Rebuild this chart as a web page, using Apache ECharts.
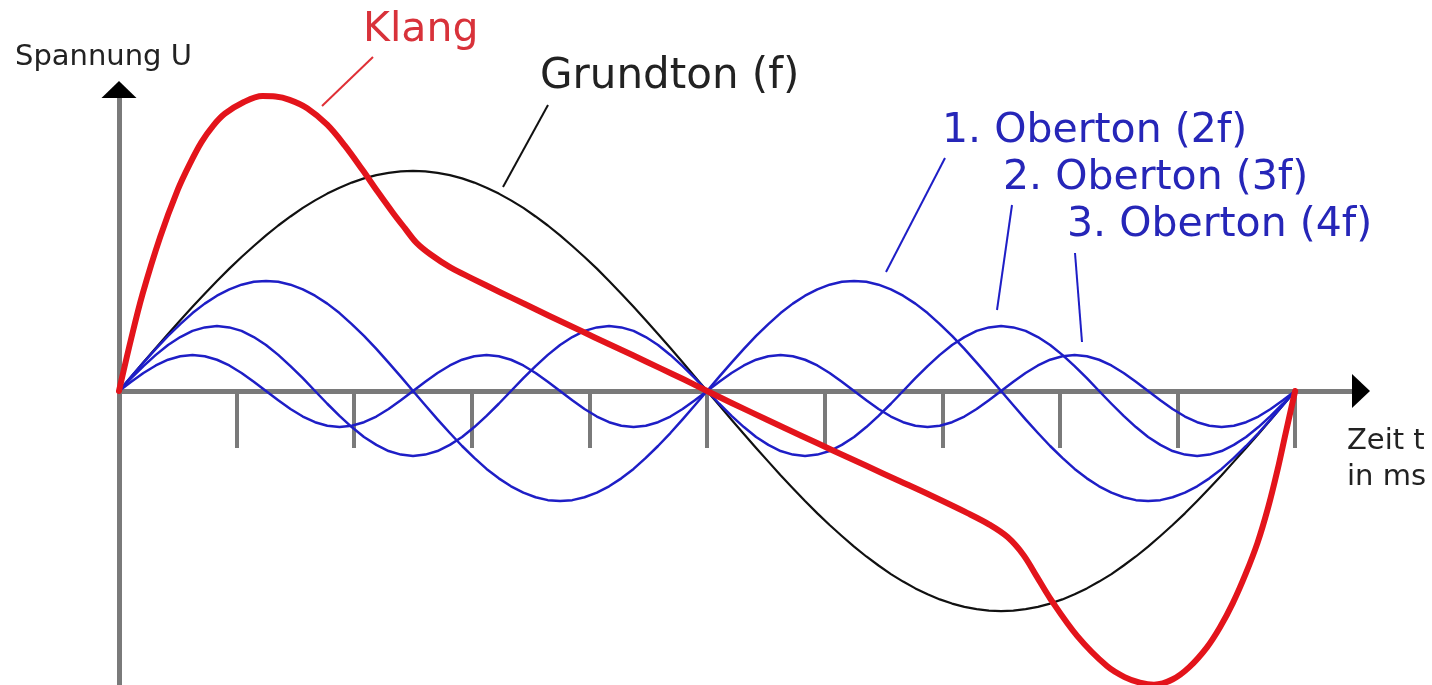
<!DOCTYPE html>
<html><head><meta charset="utf-8">
<script src="https://cdn.jsdelivr.net/npm/echarts@6/dist/echarts.min.js"></script>
<style>html,body{margin:0;padding:0;background:#fff}#c{width:1432px;height:685px}</style>
</head><body><div id="c"></div>
<script>
// time samples (ms)
const tValues = [0, .0104, .0208, .0313, .0417, .0521, .0625, .0729, .0833, .0938, .1042, .1146, .125, .1354, .1458, .1563,
  .1667, .1771, .1875, .1979, .2083, .2188, .2292, .2396, .25, .2604, .2708, .2813, .2917, .3021, .3125, .3229, .3333,
  .3438, .3542, .3646, .375, .3854, .3958, .4063, .4167, .4271, .4375, .4479, .4583, .4688, .4792, .4896, .5,
  .5104, .5208, .5313, .5417, .5521, .5625, .5729, .5833, .5938, .6042, .6146, .625, .6354, .6458, .6563, .6667,
  .6771, .6875, .6979, .7083, .7188, .7292, .7396, .75, .7604, .7708, .7813, .7917, .8021, .8125, .8229, .8333,
  .8438, .8542, .8646, .875, .8854, .8958, .9063, .9167, .9271, .9375, .9479, .9583, .9688, .9792, .9896, 1];
// Grundton (f)
const grundton = [0, .065, .131, .195, .259, .321, .383, .442, .5, .556, .609, .659, .707, .752, .793, .832, .866, .897, .924, .947, .966, .981, .991, .998, 1,
  .998, .991, .981, .966, .947, .924, .897, .866, .832, .793, .752, .707, .659, .609, .556, .5, .442, .383, .321, .259, .195, .131, .065, 0,
  -.065, -.131, -.195, -.259, -.321, -.383, -.442, -.5, -.556, -.609, -.659, -.707, -.752, -.793, -.832, -.866, -.897, -.924, -.947, -.966, -.981, -.991, -.998, -1,
  -.998, -.991, -.981, -.966, -.947, -.924, -.897, -.866, -.832, -.793, -.752, -.707, -.659, -.609, -.556, -.5, -.442, -.383, -.321, -.259, -.195, -.131, -.065, 0];
// 1. Oberton (2f)
const oberton1 = [0, .065, .129, .191, .25, .304, .354, .397, .433, .462, .483, .496, .5, .496, .483, .462, .433, .397, .354, .304, .25, .191, .129, .065, 0,
  -.065, -.129, -.191, -.25, -.304, -.354, -.397, -.433, -.462, -.483, -.496, -.5, -.496, -.483, -.462, -.433, -.397, -.354, -.304, -.25, -.191, -.129, -.065, 0,
  .065, .129, .191, .25, .304, .354, .397, .433, .462, .483, .496, .5, .496, .483, .462, .433, .397, .354, .304, .25, .191, .129, .065, 0,
  -.065, -.129, -.191, -.25, -.304, -.354, -.397, -.433, -.462, -.483, -.496, -.5, -.496, -.483, -.462, -.433, -.397, -.354, -.304, -.25, -.191, -.129, -.065, 0];
// 2. Oberton (3f)
const oberton2 = [0, .058, .113, .164, .209, .245, .273, .289, .295, .289, .273, .245, .209, .164, .113, .058, 0,
  -.058, -.113, -.164, -.209, -.245, -.273, -.289, -.295, -.289, -.273, -.245, -.209, -.164, -.113, -.058, 0,
  .058, .113, .164, .209, .245, .273, .289, .295, .289, .273, .245, .209, .164, .113, .058, 0,
  -.058, -.113, -.164, -.209, -.245, -.273, -.289, -.295, -.289, -.273, -.245, -.209, -.164, -.113, -.058, 0,
  .058, .113, .164, .209, .245, .273, .289, .295, .289, .273, .245, .209, .164, .113, .058, 0,
  -.058, -.113, -.164, -.209, -.245, -.273, -.289, -.295, -.289, -.273, -.245, -.209, -.164, -.113, -.058, 0];
// 3. Oberton (4f)
const oberton3 = [0, .042, .082, .116, .142, .158, .164, .158, .142, .116, .082, .042, 0,
  -.042, -.082, -.116, -.142, -.158, -.164, -.158, -.142, -.116, -.082, -.042, 0,
  .042, .082, .116, .142, .158, .164, .158, .142, .116, .082, .042, 0,
  -.042, -.082, -.116, -.142, -.158, -.164, -.158, -.142, -.116, -.082, -.042, 0,
  .042, .082, .116, .142, .158, .164, .158, .142, .116, .082, .042, 0,
  -.042, -.082, -.116, -.142, -.158, -.164, -.158, -.142, -.116, -.082, -.042, 0,
  .042, .082, .116, .142, .158, .164, .158, .142, .116, .082, .042, 0,
  -.042, -.082, -.116, -.142, -.158, -.164, -.158, -.142, -.116, -.082, -.042, 0];
// Klang
const klangT = [0, .01, .02, .035, .05, .06, .07, .08, .09, .105, .122, .133, .145, .16, .177, .192, .207, .22, .233, .243, .253,
  .265, .281, .3, .324, .345, .366, .394, .415, .437, .46, .48, .5,
  .52, .551, .58, .607, .635, .664, .69, .7215, .74, .7555, .769, .78, .792, .815, .84, .855, .868, .88, .896, .91, .925,
  .936, .947, .958, .968, .977, .985, .992, 1];
const klangU = [0, .23, .44, .70, .915, 1.03, 1.13, 1.205, 1.26, 1.31, 1.34, 1.338, 1.323, 1.285, 1.21, 1.115, 1.005, .905, .809, .74, .673,
  .62, .564, .512, .449, .395, .341, .270, .217, .162, .104, .053, 0,
  -.052, -.131, -.203, -.27, -.339, -.41, -.474, -.555, -.607, -.664, -.745, -.84, -.945, -1.115, -1.25, -1.3, -1.325, -1.335, -1.31, -1.255, -1.165,
  -1.075, -.964, -.83, -.69, -.53, -.359, -.19, 0];
// axis ticks and labels
const tickValues = [0.1, 0.2, 0.3, 0.4, 0.5, 0.6, 0.7, 0.8, 0.9, 1.0];
const tickLabelValues = [0.5, 1];
const tickLabels = ['o,5', '1'];

const X_MAX = 1.056, Y_MAX = 1.37, Y_MIN = -1.336;
const FONT = '"DejaVu Sans", Verdana, sans-serif';
const AXIS_GRAY = '#7a7a7a';
const BLUE = '#1e1ec6';
const BLUE_TEXT = '#2626b8';
const RED = '#e3141b';

function pairs(xs, ys) { return xs.map((x, i) => [x, ys[i]]); }

const chart = echarts.init(document.getElementById('c'), null, { renderer: 'canvas' });

function txt(text, x, y, size, color) {
  return { type: 'text', left: x, top: y - size / 2, silent: true, z: 50,
    style: { text: text, font: size + 'px ' + FONT, fill: color } };
}
function seg(x1, y1, x2, y2, color) {
  return { type: 'line', silent: true, z: 50,
    shape: { x1: x1, y1: y1, x2: x2, y2: y2 }, style: { stroke: color, lineWidth: 2 } };
}

const lineSeries = (name, data, color, width, z, smooth) => ({
  name: name, type: 'line', data: data, smooth: smooth, showSymbol: false, symbol: 'none',
  lineStyle: { color: color, width: width, join: 'round', cap: 'round' }, itemStyle: { color: color }, z: z,
  emphasis: { disabled: true }
});

chart.setOption({
  animation: false,
  backgroundColor: '#ffffff',
  grid: { left: 119, right: 71, top: 89.5, bottom: 0, containLabel: false, outerBoundsMode: 'none' },
  xAxis: {
    type: 'value', min: 0, max: X_MAX,
    axisLine: { show: true, onZero: true, lineStyle: { color: AXIS_GRAY, width: 5 } },
    axisTick: { show: true, customValues: tickValues, length: 57, lineStyle: { color: AXIS_GRAY, width: 4 } },
    axisLabel: {
      show: true, customValues: tickLabelValues, margin: 64,
      fontFamily: FONT, fontSize: 27, color: '#222',
      formatter: v => { const i = tickLabelValues.findIndex(u => Math.abs(u - v) < 1e-6); return i >= 0 ? tickLabels[i] : ''; }
    },
    splitLine: { show: false }
  },
  yAxis: {
    type: 'value', min: Y_MIN, max: Y_MAX,
    axisLine: { show: true, lineStyle: { color: AXIS_GRAY, width: 5 } },
    axisTick: { show: false }, axisLabel: { show: false }, splitLine: { show: false }
  },
  series: [
    lineSeries('Grundton (f)', pairs(tValues, grundton), '#111111', 2.2, 2, false),
    lineSeries('1. Oberton (2f)', pairs(tValues, oberton1), BLUE, 2.5, 3, false),
    lineSeries('2. Oberton (3f)', pairs(tValues, oberton2), BLUE, 2.5, 3, false),
    lineSeries('3. Oberton (4f)', pairs(tValues, oberton3), BLUE, 2.5, 3, false),
    lineSeries('Klang', pairs(klangT, klangU), RED, 6, 4, 0.34)
  ]
});

// arrow heads at the axis ends + annotations
const xEnd = chart.convertToPixel({ gridIndex: 0 }, [X_MAX, 0]);
const yEnd = chart.convertToPixel({ gridIndex: 0 }, [0, Y_MAX]);
chart.setOption({
  graphic: [
    { type: 'polygon', silent: true, z: 40, shape: { points: [[xEnd[0] + 9, xEnd[1]], [xEnd[0] - 9, xEnd[1] - 17], [xEnd[0] - 9, xEnd[1] + 17]] }, style: { fill: '#000' } },
    { type: 'polygon', silent: true, z: 40, shape: { points: [[yEnd[0], yEnd[1] - 8.5], [yEnd[0] - 17.5, yEnd[1] + 8.5], [yEnd[0] + 17.5, yEnd[1] + 8.5]] }, style: { fill: '#000' } },
    txt('Spannung U', 15, 57, 29, '#222'),
    txt('Zeit t', 1347, 441, 29, '#222'),
    txt('in ms', 1347, 477, 29, '#222'),
    txt('Klang', 363, 30, 41, '#d8323a'),
    seg(373, 57, 322, 106, '#e03036'),
    txt('Grundton (f)', 540, 77, 42, '#222'),
    seg(548, 105, 503, 187, '#111'),
    txt('1. Oberton (2f)', 942, 131, 41, BLUE_TEXT),
    seg(945, 158, 886, 272, BLUE),
    txt('2. Oberton (3f)', 1003, 178, 41, BLUE_TEXT),
    seg(1012, 205, 997, 310, BLUE),
    txt('3. Oberton (4f)', 1067, 225, 41, BLUE_TEXT),
    seg(1075, 253, 1082, 342, BLUE)
  ]
});
</script></body></html>
